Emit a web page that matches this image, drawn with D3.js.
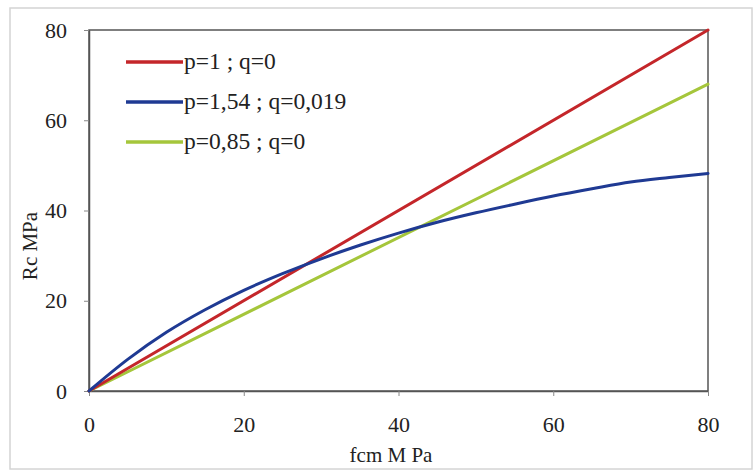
<!DOCTYPE html>
<html><head><meta charset="utf-8">
<script src="https://cdn.jsdelivr.net/npm/d3@7"></script>
</head><body style="margin:0"><svg id="c" width="755" height="471" font-family="Liberation Serif"></svg>
<script>
const fcm = [0,5,10,15,20,25,30,35,40,45,50,55,60,65,70,75,80];
const red = [0,80];
const redX = [0,80];
const green = [0,68];
const greenX = [0,80];
const blue = [0,7,13,18,22.3,26,29.3,32.3,35,37.4,39.5,41.4,43.2,44.8,46.3,47.3,48.2];
const xTicks = [0,20,40,60,80];
const yTicks = [0,20,40,60,80];
const seriesNames = ["p=1 ; q=0","p=1,54 ; q=0,019","p=0,85 ; q=0"];
const colors = ["#c4262a","#1f3a93","#a5c63b"];

const svg = d3.select("#c");
const font = "Liberation Serif";
svg.append("rect").attr("x",10).attr("y",8).attr("width",742).attr("height",461)
  .attr("fill","#fff").attr("stroke","#d4d4d4").attr("stroke-width",1.5);

const L=89,R=708,T=30,B=391;
const x=d3.scaleLinear().domain([0,80]).range([L,R]);
const y=d3.scaleLinear().domain([0,80]).range([B,T]);

svg.append("rect").attr("x",L).attr("y",T).attr("width",R-L).attr("height",B-T)
  .attr("fill","none").attr("stroke","#555").attr("stroke-width",1.5);

const ax=svg.append("g").attr("transform",`translate(0,${B})`)
  .call(d3.axisBottom(x).tickValues(xTicks).tickSize(5).tickPadding(20).tickSizeOuter(0));
const ay=svg.append("g").attr("transform",`translate(${L},0)`)
  .call(d3.axisLeft(y).tickValues(yTicks).tickSize(5).tickPadding(17).tickSizeOuter(0));
[ax,ay].forEach(g=>{
  g.attr("font-family",font).attr("font-size",22);
  g.select(".domain").attr("stroke","#555").attr("stroke-width",1.5);
  g.selectAll(".tick line").attr("stroke","#888");
  g.selectAll(".tick text").attr("fill","#222");
});

const line=d3.line().x(d=>x(d[0])).y(d=>y(d[1])).curve(d3.curveMonotoneX);
const data=[
  redX.map((v,i)=>[v,red[i]]),
  fcm.map((v,i)=>[v,blue[i]]),
  greenX.map((v,i)=>[v,green[i]])
];
[2,0,1].forEach(i=>{
  svg.append("path").datum(data[i]).attr("d",line).attr("fill","none")
    .attr("stroke",colors[i]).attr("stroke-width",3).attr("stroke-linecap","round");
});

const ly=[62,102,142];
seriesNames.forEach((n,i)=>{
  svg.append("line").attr("x1",126).attr("x2",183).attr("y1",ly[i]).attr("y2",ly[i])
    .attr("stroke",colors[i]).attr("stroke-width",3.5);
  svg.append("text").attr("x",184).attr("y",ly[i]+7).text(n)
    .attr("font-family",font).attr("font-size",23.5).attr("fill","#222");
});

svg.append("text").attr("x",391).attr("y",462).attr("text-anchor","middle")
  .text("fcm M Pa").attr("font-family",font).attr("font-size",21).attr("fill","#222");
svg.append("text").attr("transform",`translate(37,246) rotate(-90)`).attr("text-anchor","middle")
  .text("Rc MPa").attr("font-family",font).attr("font-size",21).attr("fill","#222");
</script></body></html>
